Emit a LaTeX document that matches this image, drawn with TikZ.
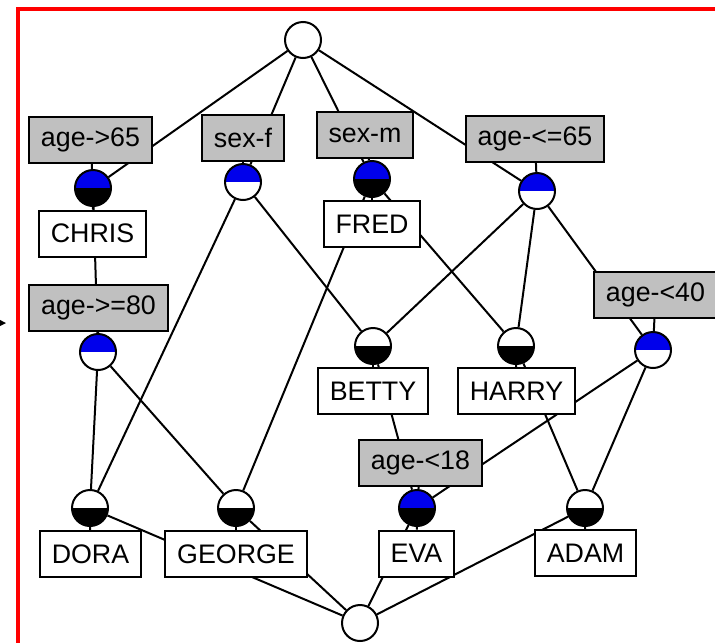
\documentclass[tikz,border=0pt]{standalone}
\usepackage{fontspec}
\setmainfont{Liberation Sans}
\definecolor{latblue}{RGB}{0,0,235}
\definecolor{latgray}{RGB}{192,192,192}
\definecolor{latred}{RGB}{255,0,0}
\usetikzlibrary{arrows.meta,positioning,backgrounds}

\begin{document}
\begin{tikzpicture}[x=0.5pt, y=-0.5pt,
  concept/.style 2 args={circle, draw, line width=1pt, minimum size=18pt, inner sep=0pt,
    path picture={\fill[#1] (path picture bounding box.north west) rectangle (path picture bounding box.east);
                  \fill[#2] (path picture bounding box.west) rectangle (path picture bounding box.south east);}},
  attr/.style={draw, line width=1pt, fill=latgray, minimum height=23pt, inner xsep=6pt, inner ysep=0pt, font=\fontsize{13.4}{16}\selectfont},
  obj/.style={attr, fill=white},
  link/.style={line width=1pt}
]
  \useasboundingbox (0,0) rectangle (715,643);

  %% Frame (only its left and top sides fall inside the picture)
  \fill[latred] (16,7) rectangle (715,11);
  \fill[latred] (16,7) rectangle (20,643);
  \coordinate (intail) at (0,323);
  \coordinate (intip) at (6,323);
  \draw[line width=1pt, -{Stealth[length=6pt,width=6pt]}] (intail) -- (intip);

  %% Concepts
  \node[concept={white}{white}] (top) at (303,40) {};
  \node[concept={latblue}{black}] (c65) at (93,188) {};
  \node[concept={latblue}{white}] (cf) at (243,182) {};
  \node[concept={latblue}{black}] (cm) at (372,179) {};
  \node[concept={latblue}{white}] (cle) at (537,191) {};
  \node[concept={latblue}{white}] (c80) at (98,352) {};
  \node[concept={white}{black}] (cbetty) at (373,346) {};
  \node[concept={white}{black}] (charry) at (516,346) {};
  \node[concept={latblue}{white}] (c40) at (653,350) {};
  \node[concept={white}{black}] (cdora) at (90,508) {};
  \node[concept={white}{black}] (cgeorge) at (236,508) {};
  \node[concept={latblue}{black}] (ceva) at (417,508) {};
  \node[concept={white}{black}] (cadam) at (585,508) {};
  \node[concept={white}{white}] (bot) at (360,623) {};

  %% Attribute labels
  \node[attr] (lgt65) at (90.5,139.5) {age->65};
  \node[attr] (lsexf) at (243,138) {sex-f};
  \node[attr] (lsexm) at (365,135) {sex-m};
  \node[attr] (lle65) at (535,138.5) {age-<=65};
  \node[attr] (lge80) at (98.5,307.5) {age->=80};
  \node[attr] (llt40) at (655.5,294.5) {age-<40};
  \node[attr] (llt18) at (420.5,462.5) {age-<18};

  %% Object labels
  \node[obj] (lchris) at (92.5,233.5) {CHRIS};
  \node[obj] (lfred) at (372,224) {FRED};
  \node[obj] (lbetty) at (373,391) {BETTY};
  \node[obj] (lharry) at (516.5,391) {HARRY};
  \node[obj] (ldora) at (90.5,554) {DORA};
  \node[obj] (lgeorge) at (236,554) {GEORGE};
  \node[obj] (leva) at (416.5,553.5) {EVA};
  \node[obj] (ladam) at (585.5,553) {ADAM};

  \begin{pgfonlayer}{background}
    %% Lattice edges
    \draw[link] (top) -- (c65);
    \draw[link] (top) -- (cf);
    \draw[link] (top) -- (cm);
    \draw[link] (top) -- (cle);
    \draw[link] (c65) -- (c80);
    \draw[link] (cf) -- (cdora);
    \draw[link] (cf) -- (cbetty);
    \draw[link] (cm) -- (cgeorge);
    \draw[link] (cm) -- (charry);
    \draw[link] (cle) -- (cbetty);
    \draw[link] (cle) -- (charry);
    \draw[link] (cle) -- (c40);
    \draw[link] (c80) -- (cdora);
    \draw[link] (c80) -- (cgeorge);
    \draw[link] (cbetty) -- (ceva);
    \draw[link] (charry) -- (cadam);
    \draw[link] (c40) -- (ceva);
    \draw[link] (c40) -- (cadam);
    \draw[link] (cdora) -- (bot);
    \draw[link] (cgeorge) -- (bot);
    \draw[link] (ceva) -- (bot);
    \draw[link] (cadam) -- (bot);

    %% Label connectors
    \draw[link] (lgt65) -- (c65);
    \draw[link] (lsexf) -- (cf);
    \draw[link] (lsexm) -- (cm);
    \draw[link] (lle65) -- (cle);
    \draw[link] (lge80) -- (c80);
    \draw[link] (llt40) -- (c40);
    \draw[link] (llt18) -- (ceva);
    \draw[link] (lchris) -- (c65);
    \draw[link] (lfred) -- (cm);
    \draw[link] (lbetty) -- (cbetty);
    \draw[link] (lharry) -- (charry);
    \draw[link] (ldora) -- (cdora);
    \draw[link] (lgeorge) -- (cgeorge);
    \draw[link] (leva) -- (ceva);
    \draw[link] (ladam) -- (cadam);
  \end{pgfonlayer}
\end{tikzpicture}
\end{document}
